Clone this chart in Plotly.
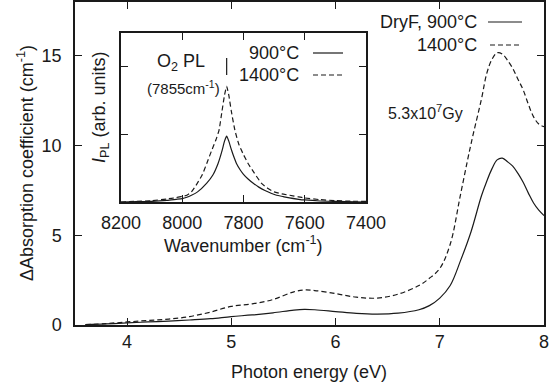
import plotly.graph_objects as go

# ---- main panel data ----
energy = [3.6, 3.8, 4.0, 4.2, 4.4, 4.6, 4.8, 5.0, 5.2, 5.4, 5.6, 5.7, 5.8, 6.0, 6.2, 6.4,
          6.6, 6.8, 6.9, 7.0, 7.1, 7.2, 7.3, 7.4, 7.45, 7.5, 7.55, 7.6, 7.65, 7.7, 7.75,
          7.8, 7.85, 7.9, 7.95, 8.0]
abs_900 = [0.02, 0.06, 0.12, 0.17, 0.22, 0.28, 0.35, 0.47, 0.56, 0.68, 0.83, 0.87, 0.85,
           0.75, 0.65, 0.61, 0.66, 0.85, 1.08, 1.5, 2.2, 3.6, 5.2, 7.2, 8.0, 8.7, 9.2, 9.3,
           9.1, 8.85, 8.45, 7.95, 7.35, 6.8, 6.4, 6.1]
abs_1400 = [0.02, 0.08, 0.17, 0.25, 0.33, 0.47, 0.72, 1.04, 1.18, 1.42, 1.85, 1.95, 1.92,
            1.75, 1.55, 1.5, 1.72, 2.2, 2.6, 3.15, 4.5, 7.3, 10.1, 12.6, 14.0, 14.8,
            15.17, 15.1, 14.75, 14.3, 13.7, 13.1, 12.3, 11.6, 11.2, 11.05]

# ---- inset data ----
wn_900 = [8200, 8150, 8100, 8050, 8020, 8000, 7985, 7970, 7950, 7920, 7900, 7883, 7870,
          7862, 7855, 7848, 7840, 7830, 7823, 7810, 7800, 7785, 7768, 7750, 7730, 7710,
          7692, 7670, 7650, 7620, 7600, 7550, 7500, 7400]
pl_900 = [0.0, 0.005, 0.01, 0.025, 0.04, 0.05, 0.07, 0.10, 0.15, 0.28, 0.40, 0.57, 0.76,
          0.90, 0.975, 0.90, 0.78, 0.65, 0.57, 0.47, 0.41, 0.34, 0.276, 0.22, 0.17, 0.13,
          0.10, 0.08, 0.06, 0.04, 0.03, 0.015, 0.008, 0.0]
wn_1400 = [8200, 8150, 8100, 8050, 8020, 8000, 7985, 7970, 7951, 7935, 7920, 7905, 7890,
           7880, 7870, 7862, 7855, 7848, 7840, 7828, 7815, 7800, 7785, 7765, 7741, 7720,
           7700, 7675, 7649, 7620, 7600, 7550, 7500, 7450, 7400]
pl_1400 = [0.0, 0.01, 0.02, 0.045, 0.065, 0.085, 0.10, 0.15, 0.276, 0.40, 0.57, 0.75, 0.92,
           1.06, 1.35, 1.58, 1.71, 1.58, 1.35, 1.06, 0.85, 0.70, 0.57, 0.43, 0.276, 0.20,
           0.15, 0.12, 0.10, 0.075, 0.06, 0.035, 0.02, 0.012, 0.01]

main_xticks = [4, 5, 6, 7, 8]
main_yticks = [0, 5, 10, 15]
inset_xticks = [8200, 8000, 7800, 7600, 7400]
inset_yticks = [0, 1, 2]
peak_wn = 7855

FONT = "Liberation Sans, Arial, sans-serif"
INK = "#1a1a1a"
DASH = "5px,3px"

fig = go.Figure()
fig.add_trace(go.Scatter(x=energy, y=abs_900, mode="lines", line=dict(color=INK, width=1.2, shape="spline"),
                         showlegend=False))
fig.add_trace(go.Scatter(x=energy, y=abs_1400, mode="lines",
                         line=dict(color=INK, width=1.2, dash=DASH, shape="spline"), showlegend=False))
fig.add_trace(go.Scatter(x=wn_900, y=pl_900, mode="lines", xaxis="x2", yaxis="y2",
                         line=dict(color=INK, width=1.2, shape="spline", smoothing=0.5), showlegend=False))
fig.add_trace(go.Scatter(x=wn_1400, y=pl_1400, mode="lines", xaxis="x2", yaxis="y2",
                         line=dict(color=INK, width=1.2, dash=DASH, shape="spline", smoothing=0.5),
                         showlegend=False))

axis_common = dict(showline=True, linecolor=INK, linewidth=1.5, mirror="ticks", ticks="inside",
                   ticklen=7, tickwidth=1.2, tickcolor=INK, showgrid=False, zeroline=False,
                   automargin=False, tickfont=dict(family=FONT, size=18, color=INK))

def px_x(p):
    return (p - 75) / 469.0

def px_y(p):
    return (325 - p) / 323.0

fig.update_layout(
    width=550, height=390,
    margin=dict(l=75, r=6, t=2, b=65),
    paper_bgcolor="white", plot_bgcolor="white",
    font=dict(family=FONT, size=18, color=INK),
    xaxis=dict(range=[3.5, 8], tickvals=main_xticks, ticklabelstandoff=0, **axis_common),
    yaxis=dict(range=[0, 18], tickvals=main_yticks, ticklabelstandoff=8, **axis_common),
    xaxis2=dict(range=[8200, 7400], tickvals=inset_xticks, anchor="y2",
                domain=[px_x(121), px_x(366)], ticklabelstandoff=4, **axis_common),
    yaxis2=dict(range=[0, 2.5], tickvals=inset_yticks, anchor="x2", showticklabels=False,
                domain=[px_y(202), px_y(33)], **axis_common),
)

ann = []
def add_text(text, px, py, size=18, xanchor="center", angle=0):
    ann.append(dict(text=text, x=px_x(px), y=px_y(py), xref="paper", yref="paper",
                    showarrow=False, xanchor=xanchor, yanchor="middle", textangle=angle,
                    font=dict(family=FONT, size=size, color=INK)))

add_text("Photon energy (eV)", 309, 372)
add_text("ΔAbsorption coefficient (cm<sup>-1</sup>)", 25, 163, angle=-90)
add_text("Wavenumber (cm<sup>-1</sup>)", 243, 244)
add_text("<i>I</i><sub>PL</sub> (arb. units)", 100, 108, angle=-90)
add_text("O<sub>2</sub> PL", 181, 63)
add_text("(7855cm<sup>-1</sup>)", 183, 87, size=15)
add_text("900°C", 301, 53, xanchor="right")
add_text("1400°C", 301, 75, xanchor="right")
add_text("DryF, 900°C", 479, 22, xanchor="right")
add_text("1400°C", 479, 45, xanchor="right")
add_text("5.3x10<sup>7</sup>Gy", 425, 112, size=16)
fig.update_layout(annotations=ann)

shapes = [
    dict(type="line", xref="paper", yref="paper", x0=px_x(313), x1=px_x(343), y0=px_y(53), y1=px_y(53),
         line=dict(color=INK, width=1.2)),
    dict(type="line", xref="paper", yref="paper", x0=px_x(313), x1=px_x(343), y0=px_y(75), y1=px_y(75),
         line=dict(color=INK, width=1.2, dash=DASH)),
    dict(type="line", xref="paper", yref="paper", x0=px_x(488), x1=px_x(522), y0=px_y(22), y1=px_y(22),
         line=dict(color=INK, width=1.2)),
    dict(type="line", xref="paper", yref="paper", x0=px_x(490), x1=px_x(520), y0=px_y(45), y1=px_y(45),
         line=dict(color=INK, width=1.2, dash=DASH)),
    dict(type="line", xref="x2", yref="y2", x0=peak_wn, x1=peak_wn, y0=1.88, y1=2.13,
         line=dict(color=INK, width=1.2)),
]
fig.update_layout(shapes=shapes)

fig.write_html("out.html", config={"displayModeBar": False},
               post_script="document.body.style.margin='0';")
